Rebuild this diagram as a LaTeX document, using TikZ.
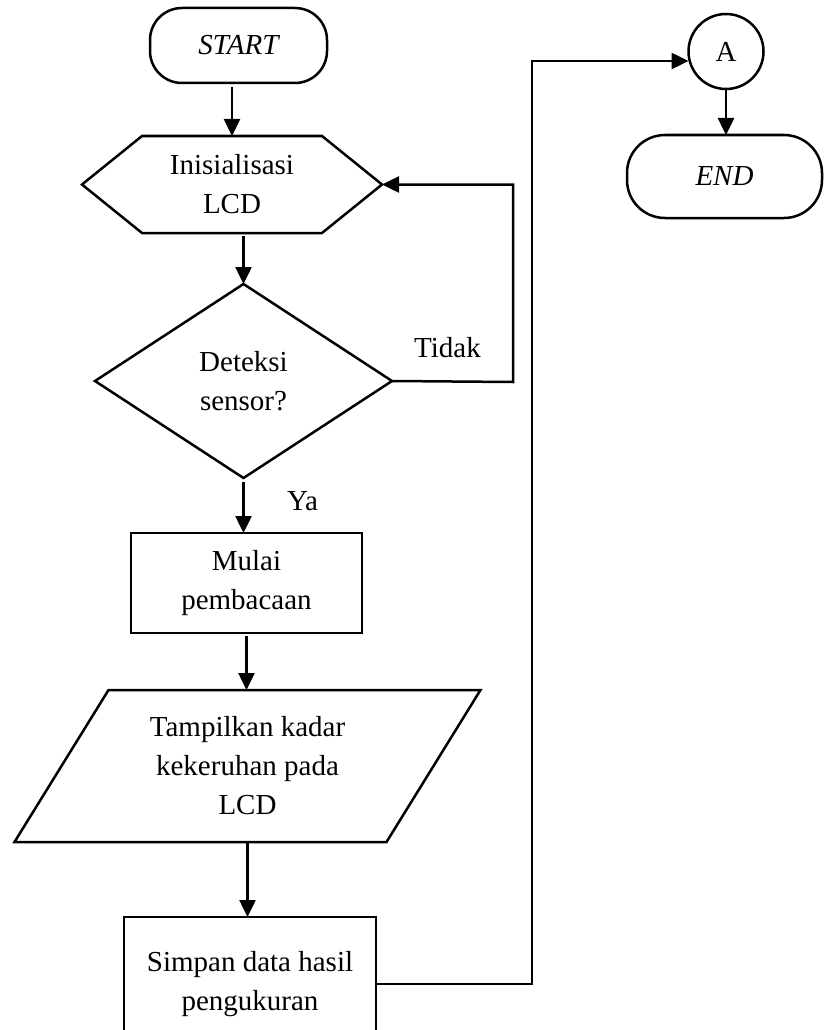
\documentclass[tikz,border=0pt]{standalone}
\usepackage{fontspec}
\setmainfont{Liberation Serif}
\usetikzlibrary{arrows.meta,shapes.geometric}
\begin{document}
\begin{tikzpicture}[x=1pt,y=-1pt,
  every node/.style={font=\fontsize{29}{39}\selectfont, align=center, inner sep=0pt, outer sep=0pt},
  ln/.style={line width=2.5pt, black},
  arr/.style={ln, -{Triangle[length=17pt,width=16pt]}},
  term/.style={draw, line width=2.5pt, rounded corners=32pt},
  proc/.style={draw, line width=2.5pt},
  shp/.style={line width=2.5pt, line join=miter}]
\useasboundingbox (0,0) rectangle (824,1030);
\clip (0,0) rectangle (824,1030);
\fill[white] (0,0) rectangle (824,1030);

% START
\node[term, minimum width=177pt, minimum height=75pt] (start) at (238.5,45.5) {\itshape START};

% Inisialisasi hexagon
\node[minimum width=300pt, minimum height=97pt] (init) at (232,184.5) {Inisialisasi\\LCD};
\draw[shp] ([xshift=60pt]init.north west) -- ([xshift=-60pt]init.north east) -- (init.east)
  -- ([xshift=-60pt]init.south east) -- ([xshift=60pt]init.south west) -- (init.west) -- cycle;

% Decision diamond
\node[minimum width=297pt, minimum height=194pt] (dec) at (243.5,381) {Deteksi\\sensor?};
\draw[shp] (dec.north) -- (dec.east) -- (dec.south) -- (dec.west) -- cycle;

% Mulai pembacaan
\node[proc, minimum width=231pt, minimum height=100pt] (mulai) at (246.5,583) {Mulai\\pembacaan};

% Parallelogram
\node[minimum width=466pt, minimum height=152pt] (tamp) at (247.5,766) {Tampilkan kadar\\kekeruhan pada\\LCD};
\draw[shp] ([xshift=94pt]tamp.north west) -- (tamp.north east) -- ([xshift=-94pt]tamp.south east)
  -- (tamp.south west) -- cycle;

% Simpan
\node[proc, minimum width=252pt, minimum height=134pt] (simpan) at (250,984) {Simpan data hasil\\pengukuran};

% Connector A and END
\node[draw, circle, line width=2.5pt, minimum size=75pt] (A) at (726,51.5) {A};
\node[term, minimum width=195pt, minimum height=83pt, rounded corners=38pt] (end) at (724.5,176.5) {\itshape END};

% labels
\node[anchor=base] (tidak) at (447.5,357) {Tidak};
\node[anchor=base] (ya) at (302.5,510) {Ya};

\coordinate (tr) at (513,382);
\coordinate (rr) at (532,61);

% connectors
\draw[arr] (init.north |- 0,87) -- (init.north);
\draw[arr] (dec.north |- 0,236) -- (dec.north);
\draw[arr] ([yshift=-4pt]dec.south) -- (dec.south |- mulai.north);
\draw[arr] ([yshift=-3pt]mulai.south) -- (mulai.south |- tamp.north);
\draw[arr] (tamp.south) -- (tamp.south |- simpan.north);
\draw[arr] (dec.east) -- (tr) |- (init.east);
\draw[arr] (simpan.east) -| (rr) -- (rr -| A.west);
\draw[arr] (A.south) -- (A.south |- end.north);
\end{tikzpicture}
\end{document}
